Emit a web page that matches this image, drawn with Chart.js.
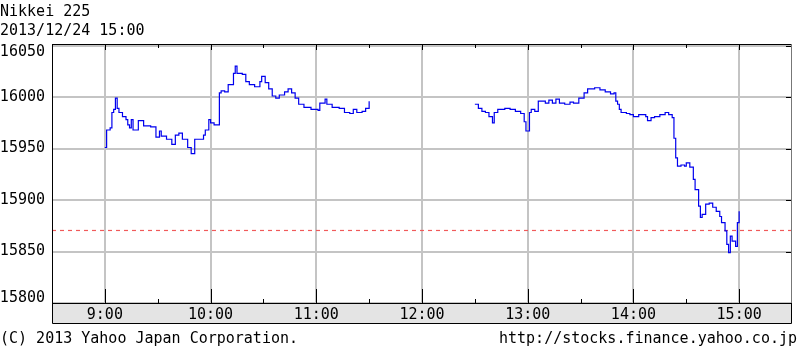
<!DOCTYPE html>
<html lang="ja">
<head>
<meta charset="UTF-8">
<title>Nikkei 225</title>
<style>
  body { margin: 0; background: #fff; }
  #wrap { position: relative; width: 800px; height: 347px; }
  #chart { position: absolute; left: 0; top: 0; }
  .txt { position: absolute; font-family: "DejaVu Sans Mono", monospace; font-size: 15px; line-height: 15px; color: #000; white-space: pre; }
</style>
</head>
<body>
<div id="wrap">
  <canvas id="chart" width="800" height="347"></canvas>
  <div class="txt" style="left:0; top:4px">Nikkei 225</div>
  <div class="txt" style="left:0; top:23px">2013/12/24 15:00</div>
  <div class="txt" style="left:0; top:331px">(C) 2013 Yahoo Japan Corporation.</div>
  <div class="txt" style="right:3px; top:331px">http://stocks.finance.yahoo.co.jp</div>
</div>

<script src="https://cdn.jsdelivr.net/npm/chart.js"></script>
<script>
"use strict"

// morning session 9:00 - 11:30
const morningTimes = ["9:00","9:01","9:03","9:04","9:05","9:06","9:07","9:08","9:10","9:12",
  "9:13","9:14","9:15","9:16","9:19","9:22","9:26","9:29","9:31","9:32",
  "9:35","9:38","9:40","9:42","9:44","9:47","9:49","9:51","9:54","9:56",
  "9:57","9:59","10:00","10:02","10:05","10:06","10:08","10:10","10:13","10:14",
  "10:15","10:18","10:20","10:22","10:25","10:28","10:29","10:31","10:33","10:35",
  "10:37","10:39","10:42","10:44","10:46","10:48","10:50","10:53","10:57","11:01",
  "11:02","11:05","11:06","11:09","11:13","11:16","11:19","11:21","11:23","11:26",
  "11:28","11:30"]
const morningValues = [15951,15968,15970,15985,15988,15999,15989,15985,15981,15978,
  15973,15970,15978,15968,15977,15972,15971,15961,15967,15962,
  15959,15954,15963,15965,15959,15951,15945,15959,15959,15963,
  15968,15978,15975,15973,16004,16006,16005,16012,16023,16030,
  16023,16022,16015,16012,16010,16015,16020,16014,16008,16001,
  15999,16002,16005,16008,16004,15999,15993,15990,15988,15987,
  15994,15998,15993,15990,15989,15985,15984,15988,15985,15986,
  15989,15996]

// afternoon session 12:30 - 15:00
const afternoonTimes = ["12:30","12:32","12:34","12:36","12:38","12:40","12:41","12:43","12:47","12:50",
  "12:53","12:56","12:58","12:59","13:01","13:02","13:04","13:06","13:10","13:12",
  "13:14","13:16","13:18","13:21","13:24","13:26","13:29","13:32","13:34","13:38",
  "13:41","13:44","13:47","13:49","13:50","13:51","13:52","13:53","13:56","13:58",
  "14:00","14:03","14:07","14:08","14:10","14:12","14:15","14:18","14:20","14:22",
  "14:23","14:24","14:25","14:27","14:29","14:30","14:32","14:34","14:35","14:37",
  "14:38","14:39","14:41","14:43","14:45","14:47","14:49","14:50","14:52","14:53",
  "14:54","14:55","14:56","14:58","14:59","15:00"]
const afternoonValues = [15993,15989,15986,15985,15981,15975,15985,15988,15989,15988,
  15986,15984,15976,15967,15985,15988,15986,15996,15994,15997,
  15994,15998,15994,15993,15995,15994,15999,16004,16008,16009,
  16007,16005,16003,16004,15996,15993,15988,15985,15984,15983,
  15981,15983,15981,15977,15980,15981,15983,15985,15983,15980,
  15960,15941,15933,15934,15933,15936,15932,15920,15910,15894,
  15883,15886,15896,15897,15893,15889,15884,15878,15870,15857,
  15849,15865,15860,15855,15878,15889]

const prevClose = 15870.42

const xTickLabels = ["9:00","10:00","11:00","12:00","13:00","14:00","15:00"]
const xHalfTicks = ["9:30","10:30","11:30","12:30","13:30","14:30"]
const yTickLabels = [15800, 15850, 15900, 15950, 16000, 16050]

function toMin(t) {
  const p = t.split(":")
  return Number(p[0]) * 60 + Number(p[1])
}

let points = morningTimes.map((t, i) => ({x: toMin(t), y: morningValues[i]}))
points.push({x: toMin("12:00"), y: null})
points = points.concat(afternoonTimes.map((t, i) => ({x: toMin(t), y: afternoonValues[i]})))

const FONT = '15px "DejaVu Sans Mono", monospace'

// gray label band, borders, tick marks, y labels
const frame = {
  id: "frame",
  beforeDraw(chart) {
    const a = chart.chartArea
    const c = chart.ctx
    c.save()
    c.fillStyle = "#e4e4e4"
    c.fillRect(a.left, a.bottom, a.right - a.left, 20)
    c.restore()
  },
  afterDraw(chart) {
    const a = chart.chartArea
    const c = chart.ctx
    const xs = chart.scales.x
    const ys = chart.scales.y
    c.save()
    c.strokeStyle = "#000"
    c.lineWidth = 1
    c.beginPath()
    // plot box + band
    c.moveTo(a.left + 0.5, a.top + 0.5)
    c.lineTo(a.right - 0.5, a.top + 0.5)
    c.moveTo(a.left + 0.5, a.top)
    c.lineTo(a.left + 0.5, a.bottom + 20.5)
    c.lineTo(a.right - 0.5, a.bottom + 20.5)
    c.lineTo(a.right - 0.5, a.bottom)
    c.moveTo(a.left, a.bottom + 0.5)
    c.lineTo(a.right, a.bottom + 0.5)
    // hour ticks
    xTickLabels.forEach(t => {
      const x = Math.round(xs.getPixelForValue(toMin(t))) + 0.5
      c.moveTo(x, a.top); c.lineTo(x, a.top + 6)
      c.moveTo(x, a.bottom); c.lineTo(x, a.bottom - 14)
    })
    xHalfTicks.forEach(t => {
      const x = Math.round(xs.getPixelForValue(toMin(t))) + 0.5
      c.moveTo(x, a.top); c.lineTo(x, a.top + 4)
      c.moveTo(x, a.bottom); c.lineTo(x, a.bottom - 4)
    })
    yTickLabels.forEach(v => {
      const y = Math.round(ys.getPixelForValue(v)) + 0.5
      c.moveTo(a.right - 6, y); c.lineTo(a.right, y)
    })
    c.stroke()
    c.strokeStyle = "#777"
    c.beginPath()
    c.moveTo(a.right - 0.5, a.top); c.lineTo(a.right - 0.5, a.bottom)
    c.stroke()

    c.fillStyle = "#000"
    c.font = FONT
    c.textAlign = "right"
    c.textBaseline = "middle"
    yTickLabels.forEach(v => {
      let y = ys.getPixelForValue(v)
      y = Math.min(Math.max(y, a.top + 8), a.bottom - 5)
      c.fillText(String(v), a.left - 7, y)
    })
    c.restore()
  }
}

const graph = new Chart(document.getElementById("chart"), {
  type: "line",
  data: {
    datasets: [
      {
        label: "Nikkei 225",
        data: points,
        borderColor: "#0000ee",
        borderWidth: 1.2,
        pointRadius: 0,
        stepped: true,
        spanGaps: false,
        order: 0
      },
      {
        label: "prev",
        data: [{x: toMin("8:30"), y: prevClose}, {x: toMin("15:30"), y: prevClose}],
        borderColor: "#f05a5a",
        borderWidth: 1.2,
        borderDash: [4, 4],
        pointRadius: 0,
        order: 1
      }
    ]
  },
  options: {
    responsive: false,
    animation: false,
    layout: { padding: { top: 44, right: 8, left: 0, bottom: 0 } },
    plugins: {
      legend: { display: false },
      tooltip: { enabled: false }
    },
    scales: {
      x: {
        type: "linear",
        min: toMin("8:30"),
        max: toMin("15:30"),
        afterFit: s => { s.height = 44 },
        afterBuildTicks: s => { s.ticks = xTickLabels.map(t => ({value: toMin(t)})) },
        grid: { color: "#c4c4c4", lineWidth: 2, drawTicks: false },
        border: { display: false },
        ticks: {
          autoSkip: false,
          maxRotation: 0,
          padding: 3,
          color: "#000",
          font: { family: '"DejaVu Sans Mono", monospace', size: 15 },
          callback: (v, i) => xTickLabels[i]
        }
      },
      y: {
        min: 15800,
        max: 16051.5,
        afterFit: s => { s.width = 52 },
        afterBuildTicks: s => { s.ticks = yTickLabels.map(v => ({value: v})) },
        grid: { color: "#c4c4c4", lineWidth: 2, drawTicks: false },
        border: { display: false },
        ticks: { display: false }
      }
    }
  },
  plugins: [frame]
})
</script>
</body>
</html>
